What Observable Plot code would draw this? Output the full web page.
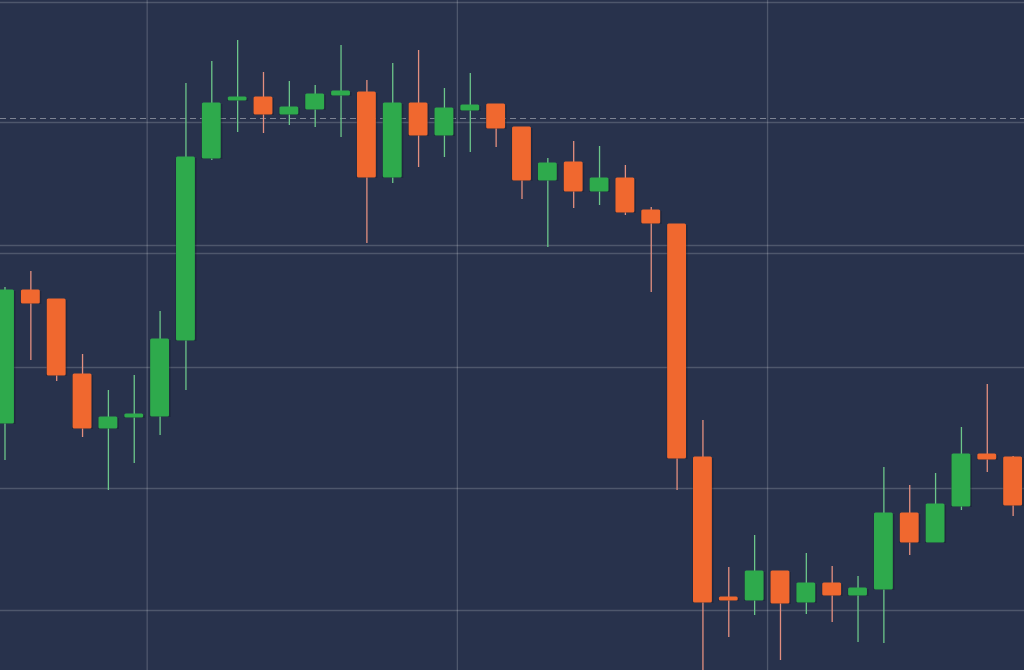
<!DOCTYPE html>
<html>
<head>
<meta charset="utf-8">
<script src="https://cdn.jsdelivr.net/npm/d3@7"></script>
<script src="https://cdn.jsdelivr.net/npm/@observablehq/plot@0.6"></script>
<style>
  html, body { margin: 0; padding: 0; background: #28324c; overflow: hidden; }
  #chart svg { display: block; }
</style>
</head>
<body>
<div id="chart"></div>
<script>
// Candle data, one entry per candle
const opens  = [124.7,138.0,137.1,129.6,124.2,125.3,125.4,133.0,151.2,157.0,157.3,155.6,156.1,157.5,157.8,149.3,156.7,153.5,156.0,156.6,154.3,149.0,150.8,147.9,149.2,146.0,144.6,121.3,107.3,107.0,109.9,106.8,108.7,107.5,108.1,115.7,112.8,116.4,121.6,121.3];
const highs  = [138.3,139.9,137.1,131.6,128.0,129.5,135.9,158.7,160.9,163.0,159.8,158.9,158.5,162.5,159.0,160.7,162.0,158.2,159.7,156.6,154.3,151.2,152.9,152.4,150.5,146.3,144.6,125.0,110.3,113.5,109.9,111.7,110.4,109.4,120.3,118.5,119.7,124.3,128.6,121.4];
const lows   = [121.0,131.0,128.9,123.3,118.0,120.7,123.5,128.0,151.0,153.8,153.7,154.5,154.3,153.3,142.7,148.7,150.3,151.3,151.8,152.3,147.1,142.3,146.2,146.5,145.5,137.8,118.0,99.5,103.3,105.5,101.0,105.6,104.8,102.8,102.7,111.5,112.8,116.0,119.8,115.4];
const closes = [138.0,136.7,129.5,124.2,125.3,125.6,133.1,151.3,156.7,157.3,155.6,156.3,157.6,157.9,149.3,156.7,153.5,156.2,156.5,154.2,149.0,150.7,147.9,149.2,145.8,144.7,121.2,106.8,107.0,109.9,106.7,108.7,107.5,108.2,115.7,112.8,116.6,121.6,121.1,116.5];

// Grid lines
const gridPrices = [166.8, 154.8, 142.5, 141.7, 130.3, 118.2, 106.0];
const gridSlots = [5.5, 17.5, 29.5];
const currentPrice = [155.2];

const candles = opens.map((o, i) => ({
  i, open: o, high: highs[i], low: lows[i], close: closes[i], up: closes[i] >= o
}));

const GREEN = "#2eaa4c";
const ORANGE = "#f0682f";
const GREEN_WICK = "#6cc68a";
const ORANGE_WICK = "#e38f7f";

const chart = Plot.plot({
  width: 1024,
  height: 670,
  margin: 0,
  style: { background: "#28324c", overflow: "hidden" },
  x: { domain: [-0.174, 39.44], axis: null },
  y: { domain: [100, 167], axis: null },
  marks: [
    Plot.ruleY(gridPrices, { stroke: "#ffffff", strokeOpacity: 0.18, strokeWidth: 1.3 }),
    Plot.ruleX(gridSlots, { stroke: "#ffffff", strokeOpacity: 0.18, strokeWidth: 1.3 }),
    Plot.ruleY(currentPrice, { stroke: "#ffffff", strokeOpacity: 0.4, strokeWidth: 1.2, strokeDasharray: "6,4" }),
    Plot.ruleX(candles, {
      x: "i", y1: "low", y2: "high",
      stroke: d => d.up ? GREEN_WICK : ORANGE_WICK,
      strokeWidth: 1.3
    }),
    Plot.ruleX(candles, {
      x: "i", y1: "open", y2: "close",
      stroke: "#101626", strokeOpacity: 0.35, strokeWidth: 21,
      dy: 1
    }),
    Plot.rectY(candles, {
      x1: d => d.i - 0.365, x2: d => d.i + 0.365,
      y1: d => Math.min(d.open, d.close) - 0.06,
      y2: d => Math.max(d.open, d.close) + 0.06,
      fill: d => d.up ? GREEN : ORANGE,
      rx: 1.5
    })
  ]
});
document.getElementById("chart").appendChild(chart);
</script>
</body>
</html>
